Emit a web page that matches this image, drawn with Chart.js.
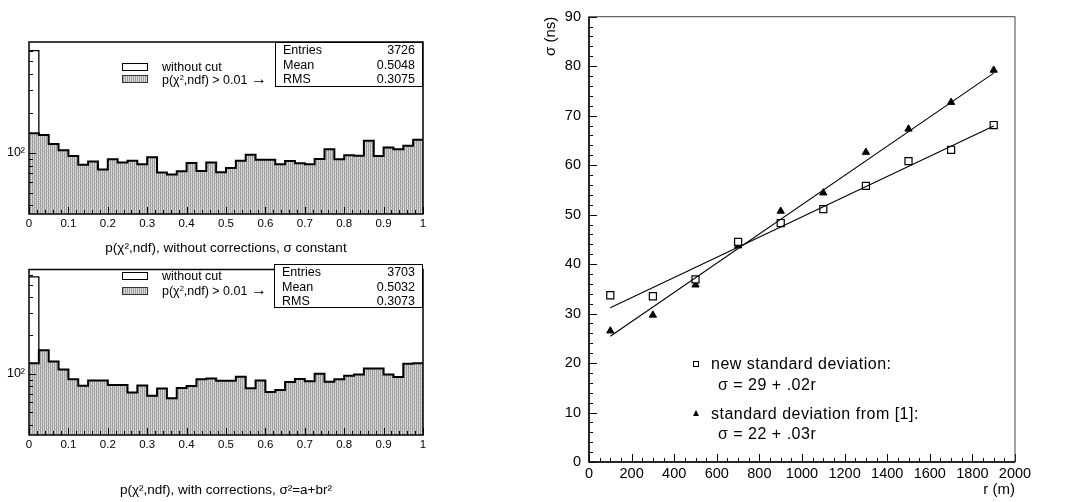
<!DOCTYPE html>
<html>
<head>
<meta charset="utf-8">
<script src="https://cdn.jsdelivr.net/npm/chart.js@4.4.0/dist/chart.umd.min.js"></script>
<style>
  body { margin: 0; width: 1070px; height: 502px; background: #fff; position: relative; overflow: hidden;
         font-family: "Liberation Sans", Arial, sans-serif; color: #000; }
  canvas { position: absolute; }
  .stats { position: absolute; background: #fff; border: 1.5px solid #000; box-sizing: border-box;
           font-size: 12.5px; line-height: 14.5px; padding: 0 7px 0 7px; }
  .stats div { display: flex; justify-content: space-between; }
  .swatch { position: absolute; width: 26px; height: 8px; box-sizing: border-box; border: 1px solid #000; }
  .grey { background: repeating-linear-gradient(90deg, #9e9e9e 0 1px, #dadada 1px 2px); border-color: #333; }
  .lbl { position: absolute; font-size: 12.5px; line-height: 14px; white-space: nowrap; }
  .arrow { font-size: 16px; line-height: 10px; }
  .leg { position: absolute; font-size: 16px; line-height: 18px; letter-spacing: 0.5px; white-space: nowrap; }
  sup { font-size: 0.6em; vertical-align: 0.5em; line-height: 0; }
</style>
</head>
<body>
<canvas id="topHist" width="430" height="260" style="left:0;top:0;width:430px;height:260px"></canvas>
<canvas id="botHist" width="430" height="244" style="left:0;top:258px;width:430px;height:244px"></canvas>
<canvas id="sigma" width="550" height="502" style="left:520px;top:0;width:550px;height:502px"></canvas>

<!-- top histogram legend and stats -->
<div class="swatch" style="left:122px;top:63px;background:#fff"></div>
<div class="swatch grey" style="left:122px;top:75px"></div>
<div class="lbl" style="left:162px;top:60px">without cut</div>
<div class="lbl" style="left:162px;top:73px">p(χ<sup>2</sup>,ndf) &gt; 0.01 <span class="arrow">→</span></div>
<div class="stats" style="left:275px;top:42px;width:148px;height:45px">
  <div><span>Entries</span><span>3726</span></div>
  <div><span>Mean</span><span>0.5048</span></div>
  <div><span>RMS</span><span>0.3075</span></div>
</div>

<!-- bottom histogram legend and stats -->
<div class="swatch" style="left:122px;top:272px;background:#fff"></div>
<div class="swatch grey" style="left:122px;top:287px"></div>
<div class="lbl" style="left:162px;top:269px">without cut</div>
<div class="lbl" style="left:162px;top:284px">p(χ<sup>2</sup>,ndf) &gt; 0.01 <span class="arrow">→</span></div>
<div class="stats" style="left:274px;top:264px;width:149px;height:44px">
  <div><span>Entries</span><span>3703</span></div>
  <div><span>Mean</span><span>0.5032</span></div>
  <div><span>RMS</span><span>0.3073</span></div>
</div>

<!-- right chart legend -->
<div style="position:absolute;left:693px;top:361px;width:6px;height:6px;border:1px solid #000;box-sizing:border-box"></div>
<div class="leg" style="left:711px;top:355px">new standard deviation:</div>
<div class="leg" style="left:718px;top:376px">σ = 29 + .02r</div>
<div style="position:absolute;left:693px;top:410px;width:0;height:0;border-left:3px solid transparent;border-right:3px solid transparent;border-bottom:6px solid #000"></div>
<div class="leg" style="left:711px;top:405px">standard deviation from [1]:</div>
<div class="leg" style="left:718px;top:425px">σ = 22 + .03r</div>

<script>
// histogram bins: 40 bins of width 0.025 on [0, 1]
const binWidth = 0.025;
const topCut = [141, 137, 117, 105, 95, 81.5, 86, 75, 89.5, 84.5,
                87.5, 82, 93, 71, 68.5, 72.6, 84, 73, 84.5, 71.3,
                77, 87.5, 97, 89, 89, 82, 87, 83.5, 82, 90,
                106.6, 89.5, 96, 95.5, 124, 95, 110, 106.6, 113.6, 126];
const botCut = [121, 153, 125, 108, 90.6, 80.6, 88.5, 88.5, 81.5, 81.5,
                71.3, 81, 67.3, 76.5, 64.3, 77.4, 80, 90.6, 91.6, 88,
                88, 94.9, 77, 88.5, 72, 74.7, 86, 91, 87.5, 100,
                86.5, 90.6, 96.6, 98.8, 109.8, 109.8, 98.8, 94.4, 119.7, 121];
// first bin of the "without cut" histograms (other bins equal the cut ones)
const noCutFirstBin = [600, 575];
const histYRange = [[34.4, 697], [33.1, 657]];
const histTitles = ['p(χ²,ndf), without corrections, σ constant',
                    'p(χ²,ndf), with corrections, σ²=a+br²'];

// sigma vs r
const rValues = [100, 300, 500, 700, 900, 1100, 1300, 1500, 1700, 1900];
const sigmaNew = [33.7, 33.5, 36.9, 44.5, 48.3, 51.1, 55.8, 60.8, 63.1, 68.1];
const sigmaOld = [26.5, 29.7, 35.8, 43.7, 50.7, 54.4, 62.6, 67.3, 72.7, 79.2];
const fitR = [100, 1900];
const fitNew = [31.2, 67.9];
const fitOld = [25.4, 78.6];

Chart.defaults.font.family = '"Liberation Sans", Arial, sans-serif';
Chart.defaults.color = '#000';
Chart.defaults.animation = false;

function steps(from, to, step) {
  const out = [];
  for (let v = from; v <= to + 1e-9; v += step) out.push(+v.toFixed(4));
  return out;
}

// ticks drawn inside the frame, PAW style
const innerTicks = {
  id: 'innerTicks',
  afterDatasetsDraw(chart, args, o) {
    const { ctx, chartArea: a, scales: { x, y } } = chart;
    ctx.save();
    ctx.strokeStyle = '#000';
    ctx.lineWidth = 1;
    ctx.beginPath();
    const xt = (vals, len) => vals.forEach(v => {
      const p = Math.round(x.getPixelForValue(v)) + 0.5;
      ctx.moveTo(p, a.bottom); ctx.lineTo(p, a.bottom - len);
    });
    const yt = (vals, len) => vals.forEach(v => {
      const p = Math.round(y.getPixelForValue(v)) + 0.5;
      ctx.moveTo(a.left, p); ctx.lineTo(a.left + len, p);
    });
    xt(o.xMinor, o.minorLen); xt(o.xMajor, o.majorLen);
    yt(o.yMinor, o.minorLen); yt(o.yMajor, o.majorLen);
    ctx.stroke();
    if (o.fullFrame) {
      ctx.lineWidth = 1.5;
      ctx.strokeRect(a.left, a.top, a.width, a.height);
    } else {
      ctx.strokeStyle = '#444';
      ctx.lineWidth = 1;
      ctx.strokeRect(a.left, a.top, a.width, a.height);
      ctx.strokeStyle = '#000';
      ctx.lineWidth = 1.5;
      ctx.beginPath();
      ctx.moveTo(a.left, a.top); ctx.lineTo(a.left, a.bottom); ctx.lineTo(a.right, a.bottom);
      ctx.stroke();
    }
    ctx.restore();
  }
};

// stipple fill of the cut histogram
const pc = document.createElement('canvas');
pc.width = 4; pc.height = 4;
const pctx = pc.getContext('2d');
pctx.fillStyle = '#dcdcdc'; pctx.fillRect(0, 0, 4, 4);
pctx.fillStyle = '#9f9f9f';
pctx.fillRect(0, 0, 1, 4); pctx.fillRect(2, 0, 1, 4);
pctx.fillStyle = '#bcbcbc';
pctx.fillRect(1, 1, 1, 1); pctx.fillRect(3, 3, 1, 1);
const stipple = pctx.createPattern(pc, 'repeat');

function histChart(id, cut, noCutTop, yRange, title, topPad, xHeight) {
  const edges = cut.map((_, i) => i * binWidth).concat([1]);
  return new Chart(document.getElementById(id), {
    type: 'bar',
    data: {
      datasets: [
        {
          type: 'line', label: 'without cut', order: 0,
          data: [{ x: 0, y: noCutTop }, { x: binWidth, y: noCutTop }, { x: binWidth, y: cut[1] }],
          borderColor: '#000', borderWidth: 1.3, pointRadius: 0, fill: false
        },
        {
          type: 'line', label: 'p(χ²,ndf) > 0.01 outline', order: 1,
          data: edges.map((x, i) => ({ x, y: cut[Math.min(i, cut.length - 1)] })),
          stepped: true, borderColor: '#000', borderWidth: 2, pointRadius: 0, fill: false
        },
        {
          type: 'bar', label: 'p(χ²,ndf) > 0.01', order: 2,
          data: cut.map((v, i) => ({ x: (i + 0.5) * binWidth, y: v })),
          backgroundColor: stipple, borderWidth: 0,
          barPercentage: 1, categoryPercentage: 1, grouped: false
        }
      ]
    },
    options: {
      responsive: false,
      layout: { padding: { top: topPad, right: 7, left: 0, bottom: 0 } },
      plugins: {
        legend: { display: false }, tooltip: { enabled: false },
        innerTicks: {
          xMajor: steps(0, 1, 0.1), xMinor: steps(0, 1, 0.02),
          yMajor: [100], yMinor: [40, 50, 60, 70, 80, 90, 200, 300, 400, 500, 600],
          majorLen: 7, minorLen: 4, fullFrame: true
        }
      },
      scales: {
        x: {
          type: 'linear', min: 0, max: 1, offset: false,
          grid: { display: false, drawTicks: false }, border: { display: false },
          ticks: { stepSize: 0.1, padding: 3, font: { size: 11.5 }, maxRotation: 0,
                   callback: v => String(Math.round(v * 10) / 10) },
          title: { display: true, text: title, font: { size: 13.5 }, padding: { top: 4, bottom: 4 } },
          afterFit: s => { s.height = xHeight; }
        },
        y: {
          type: 'logarithmic', min: yRange[0], max: yRange[1],
          grid: { display: false, drawTicks: false }, border: { display: false },
          afterBuildTicks: s => { s.ticks = [{ value: 100 }]; },
          ticks: { padding: 4, font: { size: 12.5 }, callback: v => (v === 100 ? '10²' : '') },
          afterFit: s => { s.width = 29; }
        }
      }
    },
    plugins: [innerTicks]
  });
}

histChart('topHist', topCut, noCutFirstBin[0], histYRange[0], histTitles[0], 42, 46);
histChart('botHist', botCut, noCutFirstBin[1], histYRange[1], histTitles[1], 6, 67);

new Chart(document.getElementById('sigma'), {
  type: 'scatter',
  data: {
    datasets: [
      {
        type: 'line', label: 'σ = 29 + .02r', showLine: true,
        data: fitR.map((x, i) => ({ x, y: fitNew[i] })),
        borderColor: '#000', borderWidth: 1.1, pointRadius: 0, fill: false
      },
      {
        type: 'line', label: 'σ = 22 + .03r', showLine: true,
        data: fitR.map((x, i) => ({ x, y: fitOld[i] })),
        borderColor: '#000', borderWidth: 1.1, pointRadius: 0, fill: false
      },
      {
        label: 'new standard deviation',
        data: rValues.map((x, i) => ({ x, y: sigmaNew[i] })),
        pointStyle: 'rect', pointRadius: 5, backgroundColor: '#fff', borderColor: '#000', borderWidth: 1.2
      },
      {
        label: 'standard deviation from [1]',
        data: rValues.map((x, i) => ({ x, y: sigmaOld[i] })),
        pointStyle: 'triangle', pointRadius: 4.2, backgroundColor: '#000', borderColor: '#000', borderWidth: 1
      }
    ]
  },
  options: {
    responsive: false,
    layout: { padding: { top: 15, right: 55, left: 19, bottom: 0 } },
    plugins: {
      legend: { display: false }, tooltip: { enabled: false },
      innerTicks: {
        xMajor: steps(0, 2000, 200), xMinor: steps(0, 2000, 50),
        yMajor: steps(0, 90, 10), yMinor: steps(0, 90, 2),
        majorLen: 8, minorLen: 4, fullFrame: false
      }
    },
    scales: {
      x: {
        type: 'linear', min: 0, max: 2000,
        grid: { display: false, drawTicks: false }, border: { display: false },
        ticks: { stepSize: 200, padding: 3, font: { size: 14.5 }, maxRotation: 0, autoSkip: false,
                 callback: v => String(v) },
        title: { display: true, text: 'r (m)', align: 'end', font: { size: 15 }, padding: { top: 2, bottom: 3 } },
        afterFit: s => { s.height = 40; }
      },
      y: {
        type: 'linear', min: 0, max: 90,
        grid: { display: false, drawTicks: false }, border: { display: false },
        ticks: { stepSize: 10, padding: 8, font: { size: 14.5 }, callback: v => String(v) },
        title: { display: true, text: 'σ (ns)', align: 'end', font: { size: 15 }, padding: { top: 3, bottom: 2 } },
        afterFit: s => { s.width = 50; }
      }
    }
  },
  plugins: [innerTicks]
});
</script>
</body>
</html>
